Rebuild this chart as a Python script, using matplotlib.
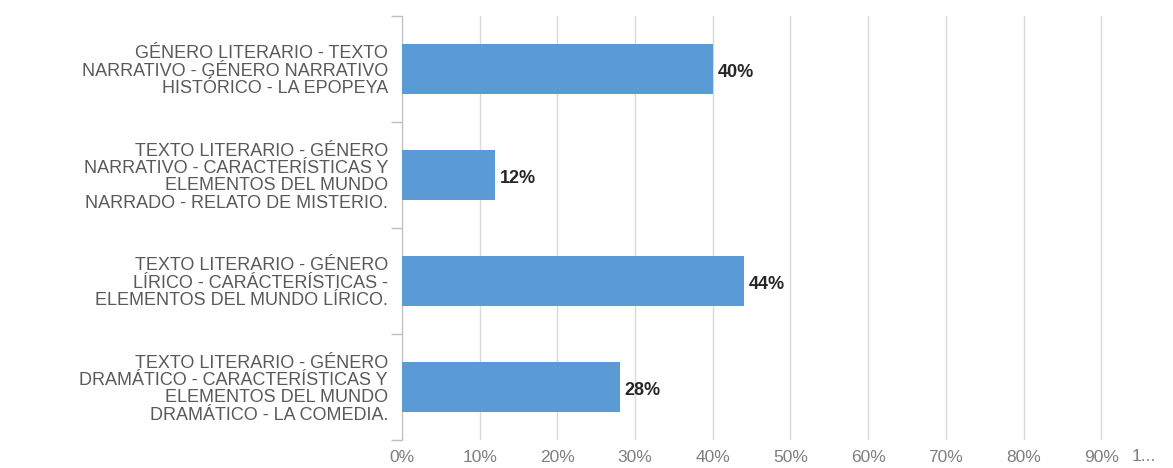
import matplotlib.pyplot as plt
from matplotlib.ticker import FixedLocator
import matplotlib.transforms as mtransforms

# -----------------------------------------------------------------------------
# Datos
# -----------------------------------------------------------------------------
CATEGORIAS = [
    "GÉNERO LITERARIO - TEXTO\nNARRATIVO - GÉNERO NARRATIVO\nHISTÓRICO - LA EPOPEYA",
    "TEXTO LITERARIO - GÉNERO\nNARRATIVO - CARACTERÍSTICAS Y\nELEMENTOS DEL MUNDO\nNARRADO - RELATO DE MISTERIO.",
    "TEXTO LITERARIO - GÉNERO\nLÍRICO - CARÁCTERÍSTICAS -\nELEMENTOS DEL MUNDO LÍRICO.",
    "TEXTO LITERARIO - GÉNERO\nDRAMÁTICO - CARACTERÍSTICAS Y\nELEMENTOS DEL MUNDO\nDRAMÁTICO - LA COMEDIA.",
]
PORCENTAJES = [0.40, 0.12, 0.44, 0.28]
X_TICKS = [0.0, 0.1, 0.2, 0.3, 0.4, 0.5, 0.6, 0.7, 0.8, 0.9]
X_TICK_LABELS = ["0%", "10%", "20%", "30%", "40%", "50%", "60%", "70%", "80%", "90%"]

# -----------------------------------------------------------------------------
# Estilo
# -----------------------------------------------------------------------------
plt.rcParams["font.family"] = ["Liberation Sans", "DejaVu Sans"]

BAR_COLOR = "#5b9bd5"
GRID_COLOR = "#d9d9d9"
AXIS_COLOR = "#bfbfbf"
LABEL_COLOR = "#595959"

fig = plt.figure(figsize=(11.73, 4.68), dpi=100)
# el área del gráfico sobrepasa el borde derecho (imagen recortada)
ax = fig.add_axes([402 / 1173, 28 / 468, 777 / 1173, 424 / 468])

y = list(range(len(CATEGORIAS)))
ax.barh(y, PORCENTAJES, height=0.47, color=BAR_COLOR, zorder=3)

for yi, v in zip(y, PORCENTAJES):
    ax.text(v + 0.006, yi + 0.03, f"{v:.0%}", va="center", ha="left",
            fontsize=13, fontweight="bold", color="#262626", zorder=4)

ax.set_xlim(0, 1.0)
ax.set_ylim(len(CATEGORIAS) - 0.5, -0.5)

# rejilla vertical
ax.xaxis.set_major_locator(FixedLocator(X_TICKS + [1.0]))
ax.set_xticklabels(X_TICK_LABELS + [""])
ax.grid(axis="x", color=GRID_COLOR, linewidth=1.0, zorder=0)
ax.tick_params(axis="x", length=0, labelsize=12.5, labelcolor="#7f7f7f", pad=7)

# etiqueta truncada del 100 %
trans = mtransforms.blended_transform_factory(ax.transData, ax.transAxes)
ax.text(0.955, -9 / 424, "1...", transform=trans, ha="center", va="top",
        fontsize=12.5, color="#7f7f7f")

# eje y: etiquetas y marcas entre categorías
ax.set_yticks(y)
ax.set_yticklabels(CATEGORIAS, fontsize=13, color=LABEL_COLOR, linespacing=1.03)
ax.yaxis.set_minor_locator(FixedLocator([i - 0.5 for i in range(len(CATEGORIAS) + 1)]))
ax.tick_params(axis="y", which="major", length=0, pad=10)
ax.tick_params(axis="y", which="minor", length=8, color=AXIS_COLOR, width=1)

for side in ("top", "right", "bottom"):
    ax.spines[side].set_visible(False)
ax.spines["left"].set_color(AXIS_COLOR)

fig.savefig("out.png", dpi=100)
plt.close(fig)
